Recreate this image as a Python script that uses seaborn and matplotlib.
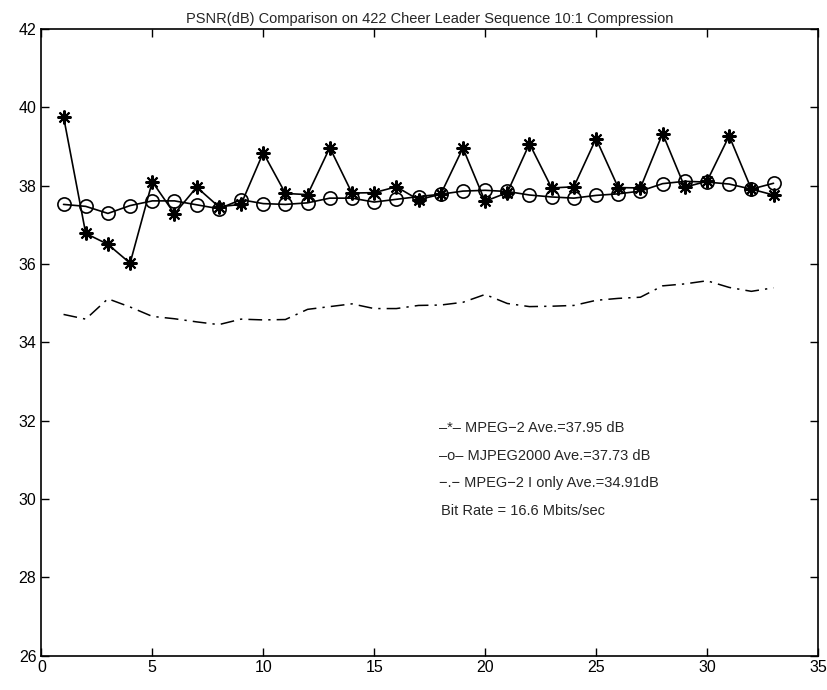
import numpy as np
import pandas as pd
import matplotlib
matplotlib.use("Agg")
import matplotlib.pyplot as plt
import seaborn as sns

# Datos (PSNR por cuadro)
frames = list(range(1, 34))
mpeg2 = [39.76, 36.78, 36.50, 36.02, 38.10, 37.28, 37.96, 37.46, 37.52, 38.84,
         37.80, 37.77, 38.97, 37.81, 37.82, 37.97, 37.64, 37.78, 38.96, 37.60,
         37.82, 39.07, 37.94, 37.97, 39.20, 37.95, 37.94, 39.33, 37.96, 38.11,
         39.27, 37.91, 37.76]
mjpeg2000 = [37.52, 37.47, 37.29, 37.49, 37.61, 37.61, 37.51, 37.41, 37.64, 37.54,
             37.52, 37.56, 37.68, 37.68, 37.58, 37.65, 37.72, 37.78, 37.86, 37.88,
             37.85, 37.76, 37.71, 37.68, 37.75, 37.79, 37.86, 38.05, 38.11, 38.09,
             38.04, 37.91, 38.06]
mpeg2_ionly = [34.71, 34.59, 35.11, 34.90, 34.66, 34.60, 34.52, 34.45, 34.59, 34.57,
               34.58, 34.84, 34.91, 34.98, 34.86, 34.86, 34.94, 34.95, 35.02, 35.22,
               34.99, 34.91, 34.92, 34.94, 35.07, 35.12, 35.15, 35.44, 35.49, 35.57,
               35.40, 35.30, 35.39]

notas = ["\u2013*\u2013 MPEG\u22122 Ave.=37.95 dB",
         "\u2013o\u2013 MJPEG2000 Ave.=37.73 dB",
         "\u2212.\u2212 MPEG\u22122 I only Ave.=34.91dB",
         "Bit Rate = 16.6 Mbits/sec"]

datos = pd.DataFrame({"frame": frames, "mpeg2": mpeg2,
                      "mjpeg2000": mjpeg2000, "ionly": mpeg2_ionly})

sns.set_style("ticks")
plt.rcParams["font.family"] = ["Liberation Sans", "DejaVu Sans"]

fig = plt.figure(figsize=(8.27, 6.9), dpi=100)
ax = fig.add_axes([0.05, 0.05, 0.939, 0.908])

# asterisco estilo MATLAB (8 rayos)
sns.lineplot(data=datos, x="frame", y="mpeg2", ax=ax, color="black",
             marker=(8, 2, 0), markersize=10, markeredgecolor="black",
             markeredgewidth=1.5, linewidth=1.2)
sns.lineplot(data=datos, x="frame", y="mjpeg2000", ax=ax, color="black",
             marker="o", markersize=9.5, markerfacecolor="none",
             markeredgecolor="black", markeredgewidth=1.2, linewidth=1.2)
sns.lineplot(data=datos, x="frame", y="ionly", ax=ax, color="black",
             linewidth=1.1, dashes=False)
ax.lines[-1].set_dashes([9, 4, 1.5, 4])

ax.set_xlim(0, 35)
ax.set_ylim(26, 42)
ax.set_xticks(range(0, 36, 5))
ax.set_yticks(range(26, 43, 2))
ax.set_xlabel("")
ax.set_ylabel("")
ax.tick_params(direction="in", top=True, right=True, length=6, width=1,
               labelsize=11.5, colors="black")
for s in ax.spines.values():
    s.set_visible(True)
    s.set_linewidth(1.2)
    s.set_color("black")

for i, t in enumerate(notas):
    dx = 0.12 if i == 3 else 0.0
    ax.text(17.9 + dx, 31.8 - 0.7 * i, t, fontsize=10.5, va="center", ha="left")

ax.set_title("PSNR(dB) Comparison on 422 Cheer Leader Sequence 10:1 Compression",
             fontsize=10.5, pad=4)

fig.savefig("out.png", dpi=100)
